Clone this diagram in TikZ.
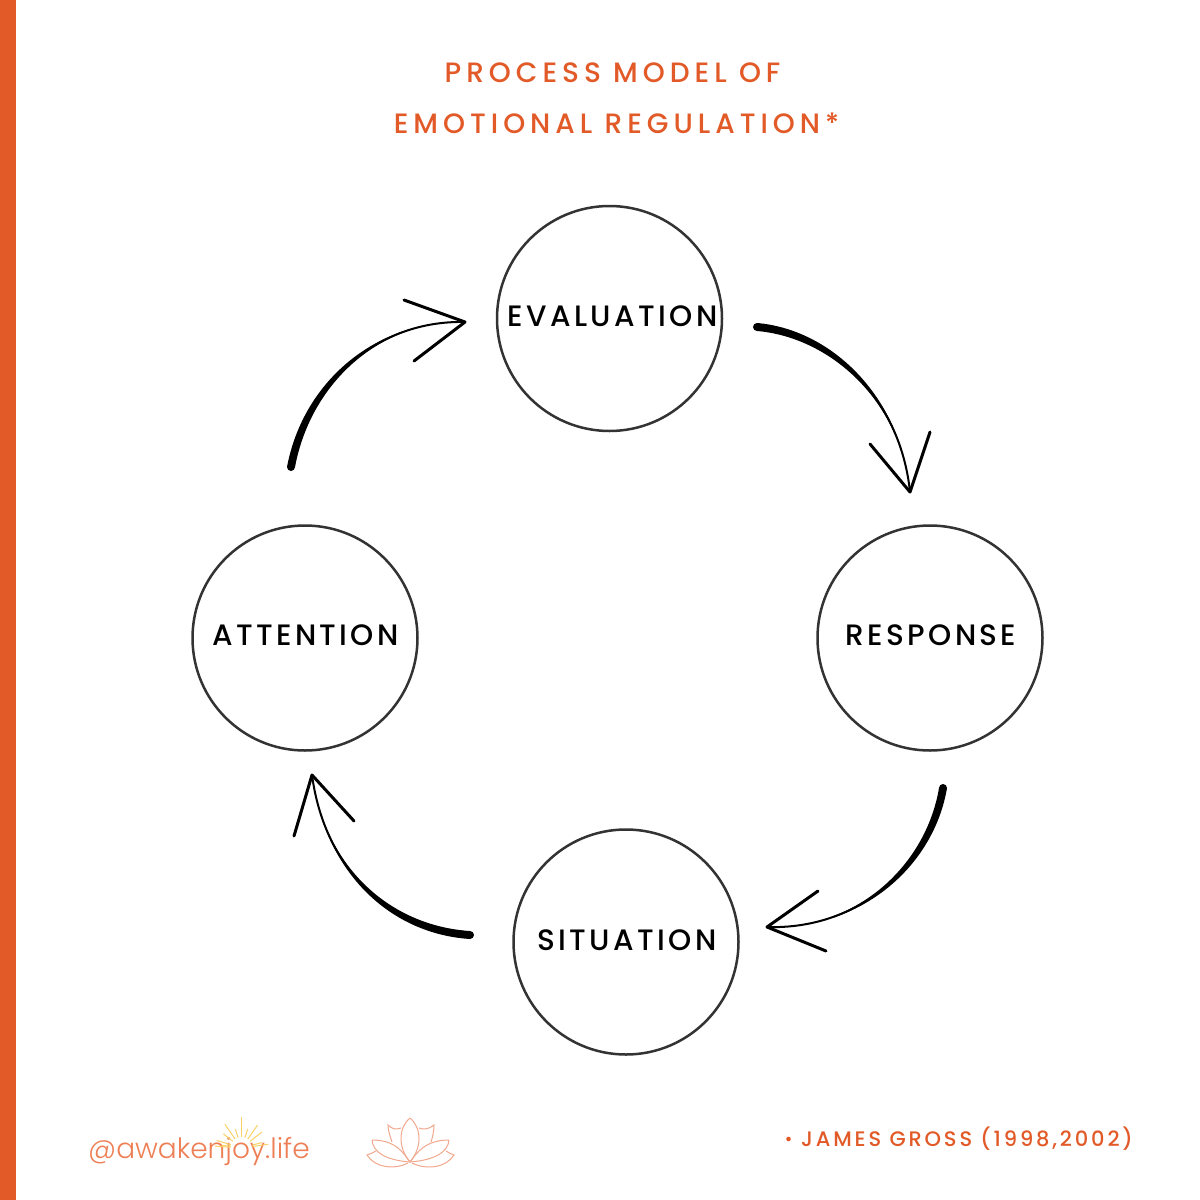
\documentclass[tikz,border=0pt]{standalone}
\usepackage{fontspec}
\setmainfont{Poppins}
\newfontfamily\titlefont[LetterSpace=17.8]{Poppins Medium}
\newfontfamily\labelfont[LetterSpace=11.5]{Poppins Medium}
\newfontfamily\notefont[LetterSpace=13.5]{Poppins Medium}
\newfontfamily\logofont{Poppins Light}
\definecolor{brand}{HTML}{E25A28}
\definecolor{ink}{HTML}{333333}
\definecolor{logotext}{HTML}{EE7F55}
\definecolor{sun}{HTML}{F9D168}
\definecolor{lotus}{HTML}{F2A88E}
\tikzset{
  stage/.style={circle,draw=ink,line width=2.5pt,minimum size=225pt,inner sep=0pt},
  stagetext/.style={font=\labelfont\fontsize{29.5}{29.5}\selectfont,text=black,inner sep=0pt,anchor=center},
  titletext/.style={font=\titlefont\fontsize{28}{28}\selectfont,text=brand,inner sep=0pt,anchor=center},
  head/.style={line width=3pt,line cap=round,line join=round,draw=black},
  petal/.style={draw=lotus,line width=1pt}
}
\usetikzlibrary{calc}
% start, c1, c2, tip, half-width normal, head end 1, head end 2
\newcommand{\taperarrow}[7]{%
  \fill[black] (#1) circle[radius=4pt];
  \fill[black] ($(#1)+(#5)$) .. controls ($(#2)+1.0*(#5)$) and ($(#3)+0.7*(#5)$) .. (#4)
     .. controls ($(#3)-0.7*(#5)$) and ($(#2)-1.0*(#5)$) .. ($(#1)-(#5)$) -- cycle;
  \draw[black,line width=2pt] (#1) .. controls (#2) and (#3) .. (#4);
  \draw[head] (#6) -- (#4) -- (#7);
}
\begin{document}
\begin{tikzpicture}[x=1pt,y=-1pt]
\useasboundingbox (0,0) rectangle (1200,1200);
\fill[white] (0,0) rectangle (1200,1200);
\fill[brand] (0,0) rectangle (16,1200);

\node[titletext] (t1) at (612.5,73) {PROCESS MODEL OF};
\node[titletext] (t2) at (616.5,123) {EMOTIONAL REGULATION*};

\node[stage] (evaluation) at (609.5,318.5) {};
\node[stage] (response) at (930,638) {};
\node[stage] (situation) at (626,942) {};
\node[stage] (attention) at (305,638) {};
\node[stagetext] (l1) at (612.5,316) {EVALUATION};
\node[stagetext] (l2) at (931,635) {RESPONSE};
\node[stagetext] (l3) at (627,940) {SITUATION};
\node[stagetext] (l4) at (305.5,635) {ATTENTION};

\taperarrow{757,327}{828,333}{900,395}{910,492}{0,-4}{870,444}{930,432}
\taperarrow{943,788}{930,865}{860,930}{767,927}{4,0}{818,891}{826,951}
\taperarrow{470,935}{392,930}{325,872}{312,775}{0,4}{354,821}{294,836}
\taperarrow{291,467}{307,382}{378,320}{465,322}{-4,0}{404,300}{414,361}

% footer note
\node[font=\notefont\fontsize{21}{21}\selectfont,text=brand,inner sep=0pt,anchor=east] (note) at (1133,1139) {JAMES GROSS (1998,2002)};
\fill[brand] (788.5,1139) circle[radius=2.3pt];

% logo
\node[font=\logofont\fontsize{28}{28}\selectfont,text=logotext,inner sep=0pt,anchor=base west] (logo) at (88,1158) {@awakenjoy.life};
% sun
\foreach \a/\r in {8/27,15/21,38/26,55/28,72/20,90/31,108/20,125/29,142/23,163/26,172/20,176/27}{
  \draw[sun,line width=1pt] ($(241.5,1148)+(-\a:11)$) -- ($(241.5,1148)+(-\a:\r)$);
}

% lotus
\coordinate (lb) at (410,1162);
\draw[petal] (410,1118) .. controls (398,1128) and (398,1148) .. (lb) .. controls (422,1148) and (422,1128) .. (410,1118);
\draw[petal] (372,1140) .. controls (395,1140) and (403,1152) .. (lb);
\draw[petal] (449,1140) .. controls (426,1140) and (417,1152) .. (lb);
\draw[petal] (372,1140) .. controls (373,1152) and (385,1160) .. (lb);
\draw[petal] (449,1140) .. controls (448,1152) and (435,1160) .. (lb);
\draw[petal] (401,1128) .. controls (396,1130) and (392,1129) .. (388,1125) .. controls (388,1130) and (390,1136) .. (392,1142);
\draw[petal] (419,1128) .. controls (424,1130) and (429,1129) .. (434,1125) .. controls (434,1130) and (433,1136) .. (431,1142);
\draw[petal] (376,1151) .. controls (372,1153) and (370,1154) .. (367,1155) .. controls (375,1168) and (395,1170) .. (408,1163);
\draw[petal] (446,1151) .. controls (449,1153) and (451,1154) .. (454,1155) .. controls (446,1168) and (426,1170) .. (412,1163);
\end{tikzpicture}
\end{document}
